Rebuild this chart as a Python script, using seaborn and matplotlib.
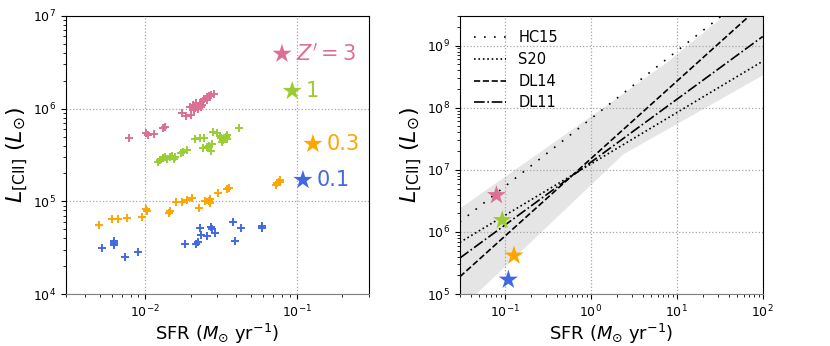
import matplotlib
matplotlib.use("Agg")
import matplotlib.pyplot as plt
import seaborn as sns
import pandas as pd

# simulated galaxies, Z' = 3
z3_sfr = [0.00787, 0.01005, 0.01047, 0.01135, 0.0132, 0.0135, 0.0175, 0.0187, 0.0201,
          0.0199, 0.0207, 0.0214, 0.0222, 0.0229, 0.0235, 0.0240, 0.0246, 0.0254, 0.0262,
          0.0272, 0.0284, 0.0224, 0.0209, 0.0238, 0.0256, 0.0217]
z3_lcii = [4.86e5, 5.5e5, 5.2e5, 5.28e5, 6.24e5, 6.4e5, 9.05e5, 8.3e5, 8.55e5,
           1.05e6, 1.10e6, 1.01e6, 1.07e6, 1.14e6, 1.03e6, 1.21e6, 1.26e6, 1.33e6, 1.37e6,
           1.39e6, 1.43e6, 9.8e5, 9.7e5, 1.10e6, 1.25e6, 1.16e6]

# Z' = 1
z1_sfr = [0.01208, 0.01256, 0.0132, 0.01355, 0.0139, 0.01465, 0.01502, 0.0154, 0.0158,
          0.0173, 0.0178, 0.0189, 0.0214, 0.0229, 0.0243, 0.0240, 0.0254, 0.0265, 0.0272,
          0.0277, 0.0281, 0.0298, 0.0311, 0.0319, 0.0327, 0.0339, 0.0348, 0.0322, 0.0348,
          0.0417]
z1_lcii = [2.64e5, 2.79e5, 2.91e5, 3.03e5, 2.84e5, 2.98e5, 3.11e5, 2.89e5, 3.03e5,
           3.30e5, 3.43e5, 3.58e5, 4.67e5, 4.79e5, 4.79e5, 3.73e5, 3.89e5, 3.99e5, 3.52e5,
           4.16e5, 5.65e5, 5.42e5, 5.07e5, 4.87e5, 4.59e5, 4.91e5, 5.2e5, 4.41e5, 4.67e5,
           6.24e5]

# Z' = 0.3
z03_sfr = [0.00499, 0.00604, 0.00665, 0.00756, 0.00955, 0.0101, 0.01026, 0.01436, 0.01465,
           0.0160, 0.0175, 0.0189, 0.0204, 0.0228, 0.0247, 0.0267, 0.0267, 0.0265, 0.0301,
           0.0348, 0.0355, 0.0745, 0.0764, 0.0782, 0.0727, 0.0775]
z03_lcii = [5.5e4, 6.5e4, 6.4e4, 6.67e4, 6.83e4, 8.2e4, 7.9e4, 7.43e4, 7.9e4,
            9.83e4, 9.9e4, 1.03e5, 1.08e5, 8.55e4, 1.02e5, 1.05e5, 9.5e4, 1.0e5, 1.22e5,
            1.35e5, 1.38e5, 1.56e5, 1.63e5, 1.70e5, 1.52e5, 1.60e5]

# Z' = 0.1
z01_sfr = [0.00519, 0.00627, 0.00627, 0.00627, 0.00738, 0.0090, 0.0182, 0.0218, 0.0222,
           0.0229, 0.0235, 0.0256, 0.0272, 0.0277, 0.0288, 0.0381, 0.0391, 0.0426, 0.0593,
           0.0593]
z01_lcii = [3.11e4, 3.53e4, 3.77e4, 3.38e4, 2.51e4, 2.82e4, 3.49e4, 3.44e4, 3.61e4,
            5.15e4, 4.33e4, 4.23e4, 5.28e4, 4.99e4, 4.59e4, 5.99e4, 3.77e4, 5.15e4, 5.42e4,
            5.2e4]

# galaxy totals (stars)
star_labels = ["$Z'=3$", "1", "0.3", "0.1"]
star_sfr = [0.080, 0.0935, 0.128, 0.110]
star_lcii = [3.9e6, 1.55e6, 4.16e5, 1.7e5]
colors = ["palevioletred", "yellowgreen", "orange", "royalblue"]

# observed relations (straight in log-log, end points)
rel_sfr = [0.03, 100]
rel_names = ["HC15", "S20", "DL14", "DL11"]
rel_lcii = {
    "HC15": [1.45e6, 1.0e10],
    "S20": [6.8e5, 5.6e8],
    "DL14": [1.9e5, 4.7e9],
    "DL11": [3.8e5, 1.4e9],
}
rel_styles = [(0, (1, 5)), ":", "--", "-."]

# scatter band
band_sfr = [0.03, 2.35, 7.8, 100]
band_lo = [5.8e4, 1.8e7, 4.6e7, 3.4e8]
band_hi = [2.45e6, 1.7e8, 5.6e8, 1.0e10]

groups = [(z3_sfr, z3_lcii), (z1_sfr, z1_lcii), (z03_sfr, z03_lcii), (z01_sfr, z01_lcii)]

fig = plt.figure(figsize=(8.3, 3.46), dpi=100)
ax1 = fig.add_axes([0.0795, 0.150, 0.365, 0.804])
ax2 = fig.add_axes([0.554, 0.150, 0.365, 0.804])

xlab = r"SFR ($M_{\odot}$ yr$^{-1}$)"
ylab = r"$L_{\rm [CII]}$ ($L_{\odot}$)"

# left panel
for (sfr, lc), c in zip(groups, colors):
    df = pd.DataFrame({"sfr": sfr, "lcii": lc})
    sns.scatterplot(data=df, x="sfr", y="lcii", marker="+", color=c, s=28,
                    linewidth=1.4, ax=ax1, zorder=3)
stars = pd.DataFrame({"sfr": star_sfr, "lcii": star_lcii, "lab": star_labels})
for i, row in stars.iterrows():
    sns.scatterplot(x=[row.sfr], y=[row.lcii], marker="*", color=colors[i], s=210,
                    edgecolor="none", ax=ax1, zorder=4)
    ax1.annotate(row.lab, (row.sfr, row.lcii), xytext=(10, 0), textcoords="offset points",
                 color=colors[i], fontsize=15, va="center", ha="left")
ax1.set_xscale("log")
ax1.set_yscale("log")
ax1.set_xlim(0.003, 0.3)
ax1.set_ylim(1e4, 1e7)

# right panel
ax2.fill_between(band_sfr, band_lo, band_hi, color="0.6", alpha=0.25, lw=0, zorder=1)
for name, ls in zip(rel_names, rel_styles):
    sns.lineplot(x=rel_sfr, y=rel_lcii[name], color="black", linestyle=ls, lw=1.2,
                 label=name, ax=ax2, zorder=2)
for i in range(len(star_sfr)):
    sns.scatterplot(x=[star_sfr[i]], y=[star_lcii[i]], marker="*", color=colors[i], s=210,
                    edgecolor="none", ax=ax2, zorder=4)
ax2.set_xscale("log")
ax2.set_yscale("log")
ax2.set_xlim(0.03, 100)
ax2.set_ylim(1e5, 3e9)
ax2.legend(loc="upper left", frameon=False, fontsize=10.5, handlelength=2.2,
           borderaxespad=0.6, labelspacing=0.45)

for ax in (ax1, ax2):
    ax.set_xlabel(xlab, fontsize=13, labelpad=1)
    ax.set_ylabel(ylab, fontsize=16, labelpad=2)
    ax.grid(True, which="major", linestyle=":", color="0.65", lw=0.9)
    ax.tick_params(labelsize=9)
    ax.spines["bottom"].set_color("0.5")

fig.savefig("out.png", dpi=100)
